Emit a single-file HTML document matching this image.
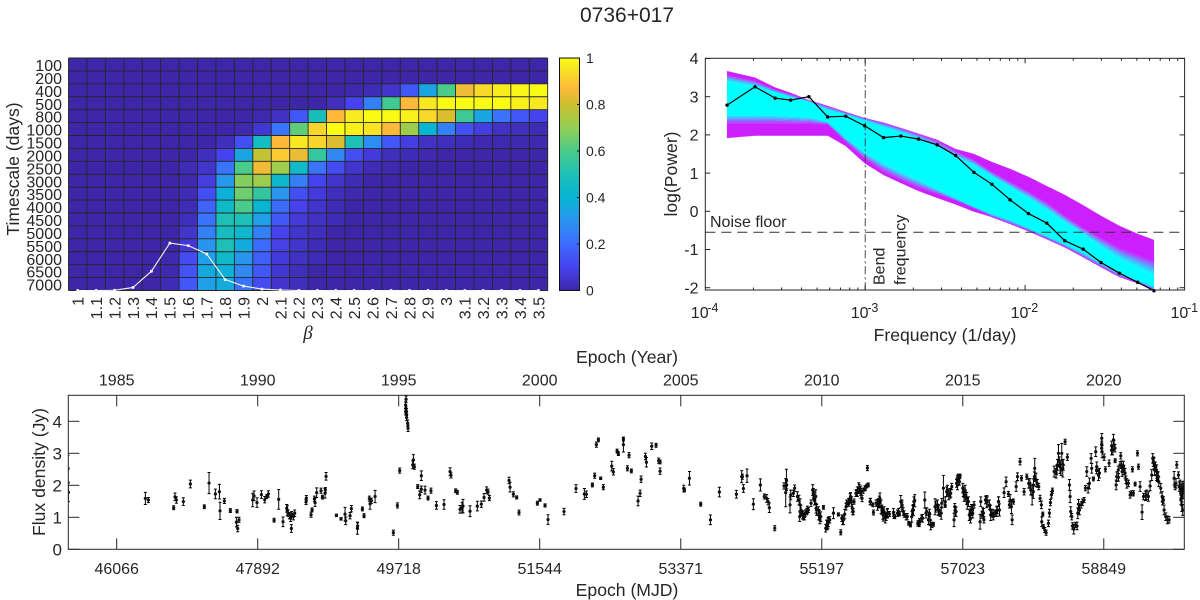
<!DOCTYPE html>
<html>
<head>
<meta charset="utf-8">
<title>0736+017</title>
<style>
html,body{margin:0;padding:0;background:#fff;}
svg{display:block;font-family:"Liberation Sans",sans-serif;fill:#262626;}
</style>
</head>
<body>
<svg id="fig" xmlns="http://www.w3.org/2000/svg" width="1200" height="600" viewBox="0 0 1200 600">
  <defs>
    <linearGradient id="cbGrad" x1="0" y1="1" x2="0" y2="0"></linearGradient>
    <clipPath id="lcClip"><rect x="68.3" y="395.3" width="1116" height="154"></rect></clipPath>
  </defs>
  <rect x="0" y="0" width="1200" height="600" fill="#fff"></rect>
  <text x="627" y="22" font-size="21" text-anchor="middle">0736+017</text>

  <g id="heat"></g>
  <text transform="translate(19,169) rotate(-90)" font-size="17.6" text-anchor="middle">Timescale (days)</text>
  <text x="308" y="339" font-size="19" font-style="italic" text-anchor="middle" style="font-family:'Liberation Serif',serif">β</text>
  <g id="cbar"></g>

  <g id="psd"></g>
  <text transform="translate(677,174) rotate(-90)" font-size="17.6" text-anchor="middle">log(Power)</text>
  <text x="945" y="341" font-size="17.6" text-anchor="middle">Frequency (1/day)</text>
  <text x="710" y="227" font-size="16">Noise floor</text>
  <text transform="translate(884.5,285) rotate(-90)" font-size="16">Bend</text>
  <text transform="translate(905.5,285) rotate(-90)" font-size="16">frequency</text>

  <g id="lc"></g>
  <text transform="translate(45,472) rotate(-90)" font-size="17.6" text-anchor="middle">Flux density (Jy)</text>
  <text x="627" y="363" font-size="17.6" text-anchor="middle">Epoch (Year)</text>
  <text x="627" y="596" font-size="17.6" text-anchor="middle">Epoch (MJD)</text>
</svg>
<script>
// ---------- heatmap data ----------
const betaLabels = ['1','1.1','1.2','1.3','1.4','1.5','1.6','1.7','1.8','1.9','2','2.1','2.2','2.3','2.4','2.5','2.6','2.7','2.8','2.9','3','3.1','3.2','3.3','3.4','3.5'];
const timescaleLabels = ['100','200','400','500','800','1000','1500','2000','2500','3000','3500','4000','4500','5000','5500','6000','6500','7000'];
const heatValues = [
[0,0,0,0,0,0,0,0,0,0,0,0,0,0,0,0,0,0,0,0,0,0,0,0,0,0],
[0,0,0,0,0,0,0,0,0,0,0,0,0,0,0,0,0,0,0,0,0,0,0,0,0,0],
[0,0,0,0,0,0,0,0,0,0,0,0,0,0,0,.01,.02,.05,.15,.35,.6,.85,.93,.97,.99,1],
[0,0,0,0,0,0,0,0,0,0,0,0,0,0,.03,.1,.25,.58,.87,.96,1,1,1,1,.98,.96],
[0,0,0,0,0,0,0,0,0,0,.01,.04,.15,.48,.87,.97,1,1,.98,.93,.82,.58,.35,.22,.15,.1],
[0,0,0,0,0,0,0,0,0,.01,.06,.22,.63,.92,1,.98,.95,.87,.72,.4,.25,.13,.08,.04,.03,.02],
[0,0,0,0,0,0,0,0,.03,.13,.46,.87,.96,.92,.82,.5,.28,.15,.08,.04,.03,.02,.01,.01,.01,.01],
[0,0,0,0,0,0,0,.03,.1,.35,.78,.9,.84,.55,.27,.13,.07,.03,.02,.01,0,0,0,0,0,0],
[0,0,0,0,0,0,.02,.05,.22,.6,.85,.72,.44,.22,.12,.05,.02,.01,0,0,0,0,0,0,0,0],
[0,0,0,0,0,0,.01,.08,.31,.68,.72,.43,.25,.1,.05,.02,0,0,0,0,0,0,0,0,0,0],
[0,0,0,0,0,0,.02,.13,.38,.65,.55,.3,.13,.07,.03,.01,0,0,0,0,0,0,0,0,0,0],
[0,0,0,0,0,0,.02,.18,.44,.6,.4,.2,.1,.05,.02,0,0,0,0,0,0,0,0,0,0,0],
[0,0,0,0,0,0,.03,.22,.5,.5,.33,.15,.07,.04,.02,0,0,0,0,0,0,0,0,0,0,0],
[0,0,0,0,0,0,.05,.25,.47,.43,.25,.1,.05,.03,0,0,0,0,0,0,0,0,0,0,0,0],
[0,0,0,0,0,0,.06,.3,.5,.37,.2,.09,.05,.02,0,0,0,0,0,0,0,0,0,0,0,0],
[0,0,0,0,0,.01,.12,.33,.44,.3,.17,.07,.04,.02,0,0,0,0,0,0,0,0,0,0,0,0],
[0,0,0,0,0,.01,.14,.36,.38,.27,.15,.06,.03,0,0,0,0,0,0,0,0,0,0,0,0,0],
[0,0,0,0,0,.02,.15,.33,.37,.22,.12,.05,.03,0,0,0,0,0,0,0,0,0,0,0,0,0]
];
const betaMarginal = [0,0,.001,.013,.083,.204,.193,.157,.047,.019,.006,.002,0,0,0,0,0,0,0,0,0,0,0,0,0,0];
const colorbarTicks = [0,.2,.4,.6,.8,1];
const colorbarLabels = ['0','0.2','0.4','0.6','0.8','1'];
const paletteStops = [0,.1,.2,.3,.4,.5,.6,.7,.8,.87,.93,1];
const paletteColors = ['#3d26a8','#4643ee','#3e6bff','#2a95ee','#07b5d3','#1ec0b5','#4acb8a','#92cf55','#cdc02c','#feb93a','#f8d92a','#f9fb15'];

// ---------- PSD data ----------
const psdLogFreq = [-3.864,-3.689,-3.5625,-3.466,-3.352,-3.235,-3.122,-3.004,-2.885,-2.777,-2.666,-2.55,-2.435,-2.32,-2.208,-2.094,-1.979,-1.864,-1.752,-1.637,-1.525,-1.41,-1.296,-1.194];
const psdObserved = [2.78,3.26,2.96,2.91,3.0,2.47,2.49,2.24,1.93,1.97,1.89,1.74,1.46,1.02,.71,.30,-.06,-.31,-.77,-.99,-1.34,-1.62,-1.86,-2.08];
const simTopEdge = [3.67,3.50,3.24,3.10,2.91,2.76,2.60,2.44,2.32,2.18,2.03,1.87,1.63,1.50,1.29,1.11,.90,.66,.43,.16,-.12,-.38,-.59,-.75];
const simMagentaUpper = [3.57,3.41,3.18,3.06,2.90,2.75,2.59,2.44,2.31,2.17,2.02,1.84,1.58,1.34,1.03,.77,.51,.22,-.12,-.44,-.70,-.96,-1.14,-1.30];
const simCyanUpper = [3.38,3.25,3.10,2.97,2.86,2.63,2.52,2.36,2.19,2.05,1.87,1.66,1.40,1.19,.90,.61,.32,.01,-.31,-.62,-.96,-1.27,-1.51,-1.72];
const simCyanLower = [2.52,2.52,2.52,2.49,2.47,2.34,1.92,1.55,1.26,1.03,.82,.58,.34,.11,-.07,-.23,-.44,-.65,-.86,-1.09,-1.36,-1.62,-1.80,-1.98];
const simMagentaLower = [2.29,2.29,2.29,2.29,2.29,2.26,1.81,1.37,1.03,.81,.61,.45,.27,.07,-.15,-.33,-.52,-.73,-.94,-1.20,-1.46,-1.72,-1.88,-2.06];
const simBottomEdge = [1.92,1.98,1.98,1.98,1.98,1.98,1.71,1.26,.95,.74,.53,.35,.18,-.01,-.15,-.33,-.51,-.73,-.94,-1.19,-1.45,-1.71,-1.87,-2.06];
const noiseFloorLevel = -0.55;
const bendLogFreq = -3;
const psdYTicks = [4,3,2,1,0,-1,-2];
const psdXDecades = [-4,-3,-2,-1];

// ---------- light curve data ----------
const lcMjd = [
45436,45440,46437,46476,46804,46821,46839,46929,47020,47201,47262,47344,47396,47404,47460,47538,47624,47616,47633,47650,
47827,47845,47883,47940,47983,48009,48030,48164,48104,48220,48268,48276,48285,48302,48319,48332,48354,48371,48328,48522,
48518,48583,48596,48626,48635,48656,48712,48730,48764,48768,48777,48911,48971,49023,49032,49088,49105,49183,49186,49248,
49269,49338,49347,49364,49412,49649,49701,49731,
49813,49808,49813,49817,49808,49821,49821,49834,49839,49908,49899,49921,49964,49990,50011,50011,50059,50098,50136,50206,
50305,50383,50395,50456,50477,50512,50538,50551,50642,50736,50788,50823,50857,50875,50892,51147,51160,51203,51246,51276,
51514,51548,51613,51652,51859,52014,52122,52148,52226,52256,52334,52368,52278,52304,52477,52498,52546,52563,52628,52628,
52680,52701,52731,52818,52844,52857,52913,52926,52995,53051,53085,53103,53103,53409,53418,53483,53629,53755,53871,54091,
54160,54169,54182,54229,54311,54402,54453,54484,54501,54518,54588,54708,54743,54739,54730,54786,54795,54829,54846,54881,54902,54911,
54916,54938,54959,54981,55002,55024,55058,55080,55089,55102,55119,55123,55153,55166,55184,55218,55248,55266,55283,55300,
55348,55412,55443,55456,55477,55494,55512,55542,55564,55585,55598,55615,55650,55676,55702,55719,55758,55779,55788,
55823,55857,55866,55900,55918,55943,55965,55987,56004,56030,56047,56073,56125,56142,56177,56202,56220,56237,56263,56289,
56323,56345,56362,56384,56401,56440,56462,56487,56531,56556,56578,56591,56608,56643,
56664,56695,56712,56729,56751,56772,56794,56824,56841,56867,56880,56910,56919,56936,56954,56962,56971,56980,56988,57023,
57040,57053,57075,57096,57118,57135,57152,57169,57247,57256,57269,57290,57316,57334,57368,57385,57403,57428,57463,57485,57498,
57558,57584,57614,57636,57627,57653,57662,57679,57714,57731,57765,57783,57817,57852,57877,57903,57921,57938,57955,57951,
57972,58007,58024,58041,58059,58046,58067,58085,58102,58132,58145,58158,58171,58184,58206,58232,58249,58262,58283,58305,58318,58348,58378,
58404,58413,58421,58434,58443,58460,58482,58503,58512,58521,58534,58555,58572,58594,58611,58629,58646,58663,58685,58693,
58715,58745,58758,58780,58793,58823,58823,58827,58853,58870,58918,58952,58965,58974,58983,58996,59017,59009,59039,59069,
59060,59086,59103,59125,59147,59168,59190,59211,59220,59233,
59255,59285,59298,59319,59345,59363,59388,59406,59427,59449,59470,59483,59501,59518,59535,59544,59561,59587,59605,59622,
59630,59652,59673,59695,59760,59772,59794,59816,59837,59846,59859,59863,59880,59902,59872,
54927,54949,54974,55009,55087,55100,55130,55156,55173,55259,55277,55467,55518,55544,55570,55592,55605,55639,55657,55682,
55704,55734,55760,55799,55829,55933,55950,55976,55993,56019,56045,56131,56192,56235,56252,56304,56373,56390,56459,56503,
56546,56598,56624,56675,56706,56744,56796,56814,56857,56926,56943,56952,56978,57029,57055,57081,57107,57124,57150,57280,
57297,57340,57383,57418,57444,57470,57487,
57893,57936,57988,58238,58273,58294,58324,58756,58821,58950,58994,59037,59080,59110,59136,59490,59507,59533,59555,59611,
59784,59827,59848,59874,59887,59861
];
const lcFlux = [
2.52,1.78,1.59,1.54,1.30,1.64,1.54,1.49,2.04,1.33,2.07,1.73,1.80,1.20,1.51,1.21,1.19,.85,.65,.92,
1.54,1.67,1.46,1.71,1.55,1.65,1.73,1.56,.91,.86,1.28,1.21,1.13,1.05,.97,1.10,1.02,1.13,.65,1.60,
1.48,1.08,1.23,1.58,1.46,1.77,1.83,1.63,1.75,1.85,2.28,1.06,.95,1.10,.89,1.05,1.27,.66,.73,1.26,
1.05,1.58,1.42,1.52,1.65,.52,1.37,2.46,
4.69,4.51,4.35,4.30,4.30,4.20,4.12,3.94,3.78,2.79,2.64,2.58,1.96,1.70,1.88,2.30,1.85,1.60,1.83,1.37,
1.40,2.43,2.31,1.83,1.78,1.25,1.30,1.35,1.19,1.35,1.41,1.62,1.85,1.80,1.60,2.15,1.94,1.72,1.62,1.15,
1.44,1.54,1.37,.93,1.18,1.90,1.73,1.72,2.01,2.30,2.22,1.94,3.27,3.42,2.60,2.42,3.07,2.99,3.44,3.27,
2.53,2.94,2.45,1.51,1.75,2.19,2.90,2.72,3.22,3.25,2.77,2.73,2.44,1.90,1.85,2.22,1.41,.92,1.79,1.72,
2.27,2.27,1.90,2.30,1.41,2.01,1.65,1.59,1.49,1.30,.66,1.98,2.01,2.17,1.77,1.39,1.70,1.75,1.91,1.65,1.54,1.02,
1.39,1.13,1.02,1.13,1.18,1.23,1.44,1.85,1.70,1.54,1.65,1.28,1.23,1.07,1.02,1.31,.66,.76,.86,.92,
1.13,1.09,.53,.97,.92,1.10,1.33,1.44,1.59,1.49,1.18,1.49,1.77,1.91,1.83,1.59,1.91,1.98,2.54,
1.49,1.39,1.15,1.44,1.39,1.49,1.33,1.13,1.18,1.02,1.13,1.10,1.15,1.02,1.13,1.10,1.49,1.39,1.10,1.02,
.81,.76,1.02,1.23,1.52,.81,.86,.97,1.54,1.18,.92,1.13,.76,.78,
1.33,1.39,1.23,1.13,1.44,1.91,1.39,1.85,1.70,1.75,1.96,.92,1.33,1.18,2.01,2.17,2.27,2.11,2.29,1.91,
1.65,1.85,1.59,1.49,1.13,1.23,1.13,1.39,.86,1.49,1.07,1.13,1.54,1.49,1.39,1.07,1.13,1.13,1.18,1.49,1.23,
1.77,2.11,1.73,1.54,1.39,1.33,.92,1.49,1.96,2.27,2.74,2.22,1.80,2.27,2.06,1.85,1.70,2.01,2.53,2.27,
2.17,1.96,1.59,1.39,1.10,.86,.71,.60,.52,.81,1.13,1.46,1.70,1.83,2.43,2.38,2.64,3.00,2.58,3.00,2.53,3.36,2.88,
2.01,1.65,1.18,1.02,.73,.63,.76,.73,1.13,1.41,1.23,1.39,1.47,1.54,1.91,2.43,1.91,2.06,2.84,2.53,
2.20,3.05,2.58,2.32,2.38,3.47,3.26,3.05,2.88,2.50,2.69,3.23,3.10,3.42,3.26,2.77,2.27,2.01,2.25,2.92,
2.64,2.43,2.58,2.38,2.06,2.06,1.70,1.75,2.50,1.75,
2.04,3.00,2.58,1.96,1.16,1.65,1.67,1.70,1.65,1.98,2.32,2.84,2.69,2.58,2.43,2.27,2.11,1.91,1.65,1.54,
1.23,1.02,.92,.92,2.22,1.96,2.64,2.32,2.01,1.75,1.39,1.65,1.94,1.98,1.23,
1.23,1.07,1.02,1.23,1.75,1.65,1.23,1.07,.92,.76,.81,.92,1.44,1.49,1.65,1.28,1.18,1.75,1.80,1.91,
1.75,1.83,1.91,2.01,1.49,1.44,1.59,1.23,1.07,.97,1.13,1.07,1.18,1.33,1.18,1.02,1.23,1.49,.81,.97,
1.13,.92,.76,1.33,1.23,1.13,1.49,1.80,1.75,1.18,2.06,2.22,2.27,1.80,1.65,1.44,1.07,.97,1.23,1.18,
.92,1.49,1.23,1.02,1.13,1.23,1.49,
2.06,1.80,2.06,2.48,2.74,2.48,2.64,2.48,3.16,3.10,3.16,2.48,2.64,2.48,2.17,2.74,2.48,2.32,2.27,1.49,
2.06,1.96,1.54,1.75,2.01,1.96
];
const lcErr = [
.42,.29,.19,.08,.06,.12,.10,.12,.12,.06,.33,.15,.23,.27,.08,.06,.05,.15,.10,.08,
.21,.15,.15,.12,.10,.06,.10,.31,.06,.15,.12,.15,.10,.10,.10,.08,.10,.10,.12,.08,
.08,.08,.06,.08,.12,.15,.08,.06,.15,.08,.12,.04,.04,.21,.12,.10,.10,.19,.10,.06,
.06,.08,.17,.08,.19,.08,.08,.08,
.10,.10,.10,.10,.10,.10,.10,.10,.10,.17,.12,.08,.06,.12,.10,.15,.12,.06,.08,.12,
.15,.12,.08,.06,.06,.12,.17,.21,.17,.15,.10,.12,.10,.08,.08,.10,.15,.08,.05,.08,
.06,.04,.05,.15,.10,.12,.17,.10,.06,.08,.04,.08,.08,.06,.15,.10,.06,.06,.06,.23,
.08,.08,.06,.15,.10,.10,.10,.15,.10,.06,.08,.06,.10,.10,.06,.21,.06,.15,.15,.12,
.19,.08,.12,.21,.17,.19,.08,.12,.10,.15,.08,.10,.12,.33,.44,.25,.15,.10,.10,.15,.15,.15,
.19,.08,.10,.10,.10,.08,.10,.17,.15,.15,.21,.15,.10,.15,.15,.06,.12,.15,.15,.10,
.17,.05,.08,.10,.15,.15,.10,.10,.15,.15,.10,.08,.10,.17,.15,.10,.08,.06,.08,
.10,.06,.08,.10,.17,.17,.21,.19,.15,.12,.15,.08,.12,.06,.10,.06,.19,.15,.10,.10,
.06,.06,.17,.17,.19,.08,.10,.10,.25,.12,.15,.12,.15,.06,
.25,.15,.15,.10,.15,.40,.08,.15,.15,.12,.10,.21,.10,.15,.15,.17,.08,.10,.06,.15,
.15,.15,.19,.15,.21,.17,.15,.10,.23,.15,.10,.15,.12,.19,.15,.17,.12,.10,.15,.15,.19,
.15,.15,.08,.17,.10,.21,.15,.08,.15,.12,.10,.08,.10,.08,.15,.15,.31,.19,.31,.15,
.21,.10,.10,.12,.06,.15,.06,.08,.08,.10,.12,.10,.10,.08,.17,.15,.17,.27,.21,.31,.27,.08,.10,
.17,.19,.15,.10,.10,.15,.08,.12,.17,.15,.15,.10,.10,.08,.08,.15,.15,.17,.15,.15,
.06,.15,.15,.17,.15,.15,.12,.19,.10,.08,.10,.15,.15,.17,.15,.06,.15,.15,.12,.10,
.10,.15,.17,.15,.15,.10,.10,.08,.08,.08,
.06,.08,.08,.15,.23,.10,.15,.15,.15,.15,.17,.15,.17,.15,.21,.15,.15,.15,.15,.10,
.15,.12,.12,.10,.21,.10,.10,.10,.15,.15,.21,.17,.12,.10,.17,
.15,.12,.10,.12,.15,.15,.17,.15,.12,.15,.17,.15,.10,.10,.12,.12,.10,.10,.15,.12,
.15,.08,.06,.06,.10,.15,.17,.15,.19,.15,.12,.10,.10,.15,.12,.10,.15,.15,.10,.12,
.15,.17,.08,.17,.17,.19,.15,.15,.15,.15,.12,.08,.06,.15,.15,.19,.17,.15,.15,.12,
.10,.15,.15,.10,.10,.12,.15,
.15,.21,.12,.15,.15,.17,.17,.12,.12,.15,.12,.12,.12,.15,.12,.15,.17,.17,.15,.10,
.15,.15,.15,.17,.12,.15
];
const mjdTicks = [46066,47892,49718,51544,53371,55197,57023,58849];
const yearLabels = ['1985','1990','1995','2000','2005','2010','2015','2020'];
const fluxTicks = [0,1,2,3,4];

// ---------- helpers ----------
const NS = 'http://www.w3.org/2000/svg';
const INK = '#262626';
function mk(parent, tag, attrs) {
  const el = document.createElementNS(NS, tag);
  for (const k in attrs) el.setAttribute(k, attrs[k]);
  parent.appendChild(el);
  return el;
}
function hexToRgb(h) {
  return [parseInt(h.slice(1,3),16), parseInt(h.slice(3,5),16), parseInt(h.slice(5,7),16)];
}
function palette(v) {
  v = Math.max(0, Math.min(1, v));
  let i = 0;
  while (i < paletteStops.length - 2 && v > paletteStops[i + 1]) i++;
  const t = (v - paletteStops[i]) / (paletteStops[i + 1] - paletteStops[i]);
  const a = hexToRgb(paletteColors[i]);
  const b = hexToRgb(paletteColors[i + 1]);
  return 'rgb(' + a.map((c, k) => Math.round(c + (b[k] - c) * t)).join(',') + ')';
}

// ---------- heatmap ----------
const heat = document.getElementById('heat');
const HL = 68.5, HR = 547.7, HT = 58, HB = 290.5;
const cellW = (HR - HL) / betaLabels.length;
const cellH = (HB - HT) / timescaleLabels.length;
const colX = i => HL + cellW * i;
const rowY = r => HT + cellH * r;
const margY = v => HB - (HB - HT) * v;

heatValues.forEach((row, r) => {
  row.forEach((v, c) => {
    const cell = mk(heat, 'rect', {x: colX(c), y: rowY(r), width: cellW + 0.3, height: cellH + 0.3, fill: palette(v)});
    
    
  });
});
for (let c = 0; c <= betaLabels.length; c++) {
  const g = mk(heat, 'line', {x1: colX(c), x2: colX(c), y1: HT, y2: HB, stroke: INK, 'stroke-width': 0.9});
  
  
}
for (let r = 0; r <= timescaleLabels.length; r++) {
  const g = mk(heat, 'line', {x1: HL, x2: HR, y1: rowY(r), y2: rowY(r), stroke: INK, 'stroke-width': 0.9});
  
  
}
timescaleLabels.forEach((lab, r) => {
  const t = mk(heat, 'text', {x: 62, y: rowY(r) + cellH / 2 + 6.6, 'font-size': 16, 'text-anchor': 'end'});
  t.textContent = lab;
  
  
});
betaLabels.forEach((lab, c) => {
  const cx = colX(c) + cellW / 2;
  const t = mk(heat, 'text', {transform: 'translate(' + (cx + 5.8) + ',297) rotate(-90)', 'font-size': 16, 'text-anchor': 'end'});
  t.textContent = lab;
  
  
});
const margPts = betaMarginal.map((v, c) => (colX(c) + cellW / 2) + ',' + margY(v)).join(' ');
const margLine = mk(heat, 'polyline', {points: margPts, fill: 'none', stroke: '#f4f4f4', 'stroke-width': 1.1});


betaMarginal.forEach((v, c) => {
  const d = mk(heat, 'circle', {cx: colX(c) + cellW / 2, cy: margY(v), r: 1.5, fill: '#f4f4f4'});
  
  
});

// ---------- colorbar ----------
const grad = document.getElementById('cbGrad');
paletteStops.forEach((s, i) => {
  mk(grad, 'stop', {offset: s, 'stop-color': paletteColors[i]});
});
const cbar = document.getElementById('cbar');
const CL = 559.5, CR = 579.5;
const cbY = v => HB - (HB - HT) * v;
mk(cbar, 'rect', {x: CL, y: HT, width: CR - CL, height: HB - HT, fill: 'url(#cbGrad)', stroke: '#111', 'stroke-width': 1});
colorbarTicks.forEach((v, i) => {
  const tick = mk(cbar, 'line', {x1: CR - 2.5, x2: CR, y1: cbY(v), y2: cbY(v), stroke: '#111', 'stroke-width': 1});
  
  
  const t = mk(cbar, 'text', {x: 586, y: cbY(v) + 5, 'font-size': 14});
  t.textContent = colorbarLabels[i];
  
  
});

// ---------- PSD ----------
const psd = document.getElementById('psd');
const PL = 705.3, PR = 1184.6, PT = 58.3, PB = 290;
const fx = lf => PL + (lf + 4) * 159.9;
const py = p => 58.5 + (4 - p) * 38.2;

function mixCool(t) { // t=0 cyan, t=1 magenta-violet
  const r = Math.round(0 + 204 * t), g = Math.round(255 - 225 * t);
  return 'rgb(' + r + ',' + g + ',255)';
}
function strip(curveA, fa, curveB, fb, colour) {
  const up = [], down = [];
  psdLogFreq.forEach((lf, i) => {
    const ya = curveA[i] + (curveB[i] - curveA[i]) * fa;
    const yb = curveA[i] + (curveB[i] - curveA[i]) * fb;
    up.push(fx(lf) + ',' + py(ya));
    down.unshift(fx(lf) + ',' + py(yb));
  });
  const s = mk(psd, 'polygon', {points: up.concat(down).join(' '), fill: colour, stroke: colour, 'stroke-width': 0.2});
  
  
}
const STEPS = 14;
strip(simTopEdge, 0, simMagentaUpper, 1, mixCool(1));
for (let k = 0; k < STEPS; k++) strip(simMagentaUpper, k / STEPS, simCyanUpper, (k + 1) / STEPS, mixCool(Math.pow(1 - (k + 0.5) / STEPS, 1.3)));
strip(simCyanUpper, 0, simCyanLower, 1, mixCool(0));
for (let k = 0; k < STEPS; k++) strip(simCyanLower, k / STEPS, simMagentaLower, (k + 1) / STEPS, mixCool((k + 0.5) / STEPS));
strip(simMagentaLower, 0, simBottomEdge, 1, mixCool(1));

const nf = mk(psd, 'line', {x1: PL, x2: PR, y1: py(noiseFloorLevel), y2: py(noiseFloorLevel), stroke: '#333', 'stroke-width': 1, 'stroke-dasharray': '10 6'});


const bend = mk(psd, 'line', {x1: fx(bendLogFreq), x2: fx(bendLogFreq), y1: PT, y2: PB, stroke: '#333', 'stroke-width': 0.9, 'stroke-dasharray': '8 3 2 3'});



const obsLine = mk(psd, 'polyline', {points: psdLogFreq.map((lf, i) => fx(lf) + ',' + py(psdObserved[i])).join(' '), fill: 'none', stroke: '#000', 'stroke-width': 1.2});


psdLogFreq.forEach((lf, i) => {
  const d = mk(psd, 'circle', {cx: fx(lf), cy: py(psdObserved[i]), r: 1.7, fill: '#000'});
  
  
});

const psdBox = mk(psd, 'rect', {x: PL, y: PT, width: PR - PL, height: PB - PT, fill: 'none', stroke: INK, 'stroke-width': 1});


psdYTicks.forEach(v => {
  [[PL, PL + 5], [PR - 5, PR]].forEach(xs => {
    const tick = mk(psd, 'line', {x1: xs[0], x2: xs[1], y1: py(v), y2: py(v), stroke: INK, 'stroke-width': 1});
    
    
  });
  const t = mk(psd, 'text', {x: 698.5, y: py(v) + 5.7, 'font-size': 16, 'text-anchor': 'end'});
  t.textContent = String(v);
  
  
});
psdXDecades.forEach(d => {
  const X = fx(d);
  if (d > -4 && d < -1) {
    [[PB - 5, PB], [PT, PT + 5]].forEach(ys => {
      const tick = mk(psd, 'line', {x1: X, x2: X, y1: ys[0], y2: ys[1], stroke: INK, 'stroke-width': 1});
      
      
    });
  }
  if (d < -1) {
    for (let m = 2; m < 10; m++) {
      const mx = fx(d + Math.log10(m));
      [[PB - 2.5, PB], [PT, PT + 2.5]].forEach(ys => {
        const tick = mk(psd, 'line', {x1: mx, x2: mx, y1: ys[0], y2: ys[1], stroke: INK, 'stroke-width': 1});
        
        
      });
    }
  }
  const base = mk(psd, 'text', {x: X - 14.5, y: 318, 'font-size': 16});
  base.textContent = '10';
  
  
  const sup = mk(psd, 'text', {x: X + 2, y: 312, 'font-size': 12.5});
  sup.textContent = String(d);
  
  
});

// ---------- light curve ----------
const lc = document.getElementById('lc');
const LL = 68.3, LR = 1184.3, LT = 395.3, LB = 549.3;
const tx = m => 116.7 + (m - 46066) * 141 / 1826;
const ty = f => LB - 32 * f;
const lcPoints = mk(lc, 'g', {'clip-path': 'url(#lcClip)'});


lcMjd.forEach((m, i) => {
  const X = tx(m), f = lcFlux[i], e = lcErr[i] === undefined ? 0.1 : lcErr[i];
  const bar = mk(lcPoints, 'path', {
    d: 'M' + X + ' ' + ty(f - e) + 'V' + ty(f + e) + 'M' + (X - 1.5) + ' ' + ty(f - e) + 'H' + (X + 1.5) + 'M' + (X - 1.5) + ' ' + ty(f + e) + 'H' + (X + 1.5),
    stroke: '#000', 'stroke-width': 1, fill: 'none'
  });
  
  
  const d = mk(lcPoints, 'circle', {cx: X, cy: ty(f), r: 1.6, fill: '#111'});
  
  
});
const lcBox = mk(lc, 'rect', {x: LL, y: LT, width: LR - LL, height: LB - LT, fill: 'none', stroke: INK, 'stroke-width': 1});


mjdTicks.forEach((m, i) => {
  const X = tx(m);
  [[LB - 11, LB], [LT, LT + 11]].forEach(ys => {
    const tick = mk(lc, 'line', {x1: X, x2: X, y1: ys[0], y2: ys[1], stroke: INK, 'stroke-width': 1});
    
    
  });
  const t = mk(lc, 'text', {x: X, y: 574, 'font-size': 16, 'text-anchor': 'middle'});
  t.textContent = String(m);
  
  
  const y = mk(lc, 'text', {x: X, y: 385.5, 'font-size': 16, 'text-anchor': 'middle'});
  y.textContent = yearLabels[i];
  
  
});
fluxTicks.forEach(v => {
  [[LL, LL + 11], [LR - 11, LR]].forEach(xs => {
    const tick = mk(lc, 'line', {x1: xs[0], x2: xs[1], y1: ty(v), y2: ty(v), stroke: INK, 'stroke-width': 1});
    
    
  });
  const t = mk(lc, 'text', {x: 62, y: ty(v) + 6, 'font-size': 17, 'text-anchor': 'end'});
  t.textContent = String(v);
  
  
});
</script>
</body>
</html>
